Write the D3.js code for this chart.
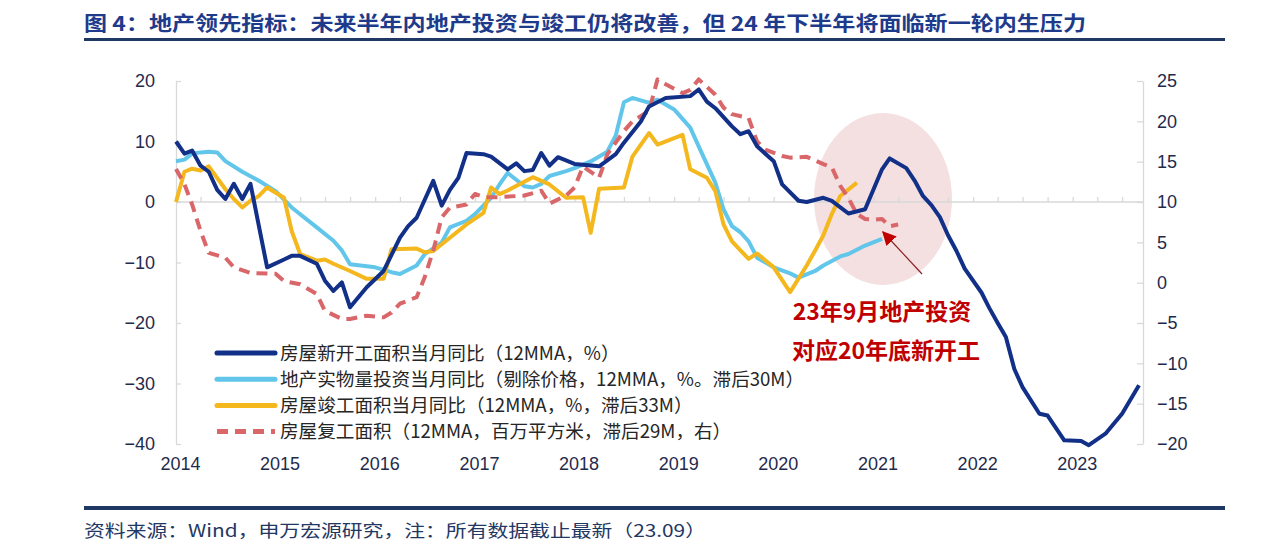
<!DOCTYPE html>
<html>
<head>
<meta charset="utf-8">
<script src="https://cdn.jsdelivr.net/npm/d3@7"></script>
<style>
  html, body { margin: 0; padding: 0; background: #fff; }
  svg { display: block; font-family: "Liberation Sans", Arial, "Noto Sans CJK SC", sans-serif; }
  .cjk { font-family: "Noto Sans CJK SC", "Noto Sans", sans-serif; }
</style>
</head>
<body>
<svg id="chart" width="1280" height="545"></svg>
<script>
// series as [month, value] vertices
const newStarts = [
  ["2014-01", 10], ["2014-02", 8], ["2014-03", 8.5], ["2014-04", 6], ["2014-05", 5], ["2014-06", 2],
  ["2014-07", 0.5], ["2014-08", 3], ["2014-09", 0.5], ["2014-10", 3], ["2014-12", -10.8],
  ["2015-02", -9.5], ["2015-03", -8.9], ["2015-04", -8.9], ["2015-06", -10.2], ["2015-07", -13],
  ["2015-08", -14.7], ["2015-09", -13.3], ["2015-10", -17.4], ["2015-12", -14.1], ["2016-02", -11.4],
  ["2016-04", -5.9], ["2016-05", -4], ["2016-06", -2.6], ["2016-08", 3.5], ["2016-09", -0.6],
  ["2016-10", 2], ["2016-11", 4], ["2016-12", 8.1], ["2017-02", 7.9], ["2017-03", 7.5],
  ["2017-05", 5.4], ["2017-06", 6.4], ["2017-07", 5.1], ["2017-08", 5.3], ["2017-09", 8.1],
  ["2017-10", 6], ["2017-11", 7.4], ["2018-01", 6.3], ["2018-04", 5.9], ["2018-06", 7.9],
  ["2018-07", 9.8], ["2018-09", 13.3], ["2018-10", 15.8], ["2018-12", 17.2], ["2019-03", 17.5],
  ["2019-04", 18.6], ["2019-05", 16.6], ["2019-06", 15.5], ["2019-08", 12.5], ["2019-09", 11.2],
  ["2019-10", 11.7], ["2019-11", 9.2], ["2020-01", 6.75], ["2020-02", 2.9], ["2020-04", 0.2],
  ["2020-05", 0], ["2020-07", 0.7], ["2020-08", 0.2], ["2020-10", -1.9], ["2020-12", -1.2],
  ["2021-02", 5.4], ["2021-03", 7.2], ["2021-05", 5.6], ["2021-06", 3.5], ["2021-07", 1],
  ["2021-08", -0.5], ["2021-09", -2.5], ["2021-10", -5.5], ["2021-11", -8.1], ["2021-12", -11],
  ["2022-02", -15], ["2022-03", -17.5], ["2022-04", -20], ["2022-05", -22.3], ["2022-06", -27.6],
  ["2022-07", -30.6], ["2022-09", -35], ["2022-10", -35.3], ["2022-12", -39.4], ["2023-02", -39.5],
  ["2023-03", -40.2], ["2023-05", -38.3], ["2023-07", -35], ["2023-09", -30.3]
];

const investment = [
  ["2014-01", 6.75], ["2014-02", 7], ["2014-03", 8], ["2014-04", 8.2], ["2014-05", 8.3], ["2014-06", 8.2],
  ["2014-07", 6.75], ["2014-09", 5], ["2014-11", 3.5], ["2015-01", 1.8], ["2015-03", -0.9],
  ["2015-06", -4.2], ["2015-08", -6.4], ["2015-09", -8], ["2015-10", -10.3], ["2016-01", -10.8],
  ["2016-03", -11.6], ["2016-04", -11.9], ["2016-06", -10.5], ["2016-07", -8.6], ["2016-09", -6.7],
  ["2016-10", -4.2], ["2016-12", -3.1], ["2017-01", -2], ["2017-03", 0.7], ["2017-04", 2.9],
  ["2017-05", 4.8], ["2017-07", 2.6], ["2017-08", 2.4], ["2017-09", 3], ["2017-10", 4.3],
  ["2017-12", 5.1], ["2018-01", 5.6], ["2018-03", 6.7], ["2018-05", 8.3], ["2018-06", 11],
  ["2018-07", 16.5], ["2018-08", 17.2], ["2018-09", 16.8], ["2018-10", 16.4], ["2018-11", 16.9],
  ["2019-01", 15.3], ["2019-03", 12.3], ["2019-04", 9.2], ["2019-06", 3.2], ["2019-07", -1.2],
  ["2019-08", -4], ["2019-09", -5], ["2019-10", -6.5], ["2019-11", -9.2], ["2020-01", -10.8],
  ["2020-03", -11.8], ["2020-04", -12.5], ["2020-06", -11.4], ["2020-07", -10.5], ["2020-09", -9],
  ["2020-10", -8.6], ["2020-12", -7.2], ["2021-02", -6.1]
];

const completions = [
  ["2014-01", 0], ["2014-02", 5], ["2014-03", 5.5], ["2014-04", 5.2], ["2014-05", 5.9], ["2014-07", 2.1],
  ["2014-08", 0.5], ["2014-09", -0.9], ["2014-10", 0.2], ["2014-11", 1], ["2014-12", 2.4],
  ["2015-02", 0.7], ["2015-03", -4.8], ["2015-04", -8.6], ["2015-06", -9.7], ["2015-07", -9.5],
  ["2015-08", -10.2], ["2015-10", -11.4], ["2015-12", -12.7], ["2016-02", -12.7], ["2016-03", -7.8],
  ["2016-06", -7.7], ["2016-07", -8.3], ["2016-08", -8.1], ["2016-10", -5.9], ["2016-12", -3.7],
  ["2017-02", -1.8], ["2017-03", 2.4], ["2017-04", 1.3], ["2017-05", 1.9], ["2017-08", 4.1],
  ["2017-10", 2.9], ["2017-12", 0.7], ["2018-02", 0.8], ["2018-03", -5.1], ["2018-04", 2.2],
  ["2018-07", 2.4], ["2018-08", 7.5], ["2018-10", 11.4], ["2018-11", 9.5], ["2019-02", 11.1],
  ["2019-03", 5.4], ["2019-05", 4], ["2019-06", 1.8], ["2019-07", -3.7], ["2019-08", -6.5],
  ["2019-09", -8], ["2019-10", -9.4], ["2019-11", -8.5], ["2020-01", -10.8], ["2020-03", -14.9],
  ["2020-05", -10.5], ["2020-06", -8], ["2020-07", -5.5], ["2020-08", -2], ["2020-09", 1],
  ["2020-11", 3.2]
];

// right axis
const resumedArea = [
  ["2014-01", 14.1], ["2014-02", 12.2], ["2014-03", 9.7], ["2014-04", 6.4], ["2014-05", 3.7], ["2014-07", 3.1],
  ["2014-08", 1.9], ["2014-10", 1.2], ["2015-01", 1.1], ["2015-02", 0.2], ["2015-04", -0.2],
  ["2015-06", -1.4], ["2015-07", -3.5], ["2015-09", -4.5], ["2015-10", -4.5], ["2015-12", -4.1],
  ["2016-02", -4.3], ["2016-03", -3.7], ["2016-04", -2.6], ["2016-06", -1.8], ["2016-07", 0.7],
  ["2016-08", 4], ["2016-09", 8.1], ["2016-10", 9.3], ["2016-12", 9.7], ["2017-01", 11],
  ["2017-02", 10.6], ["2017-04", 10.6], ["2017-07", 10.8], ["2017-09", 11.4], ["2017-10", 9.8],
  ["2017-12", 10.8], ["2018-01", 11.8], ["2018-02", 14.4], ["2018-04", 13], ["2018-05", 15.9],
  ["2018-07", 18.8], ["2018-08", 20], ["2018-10", 21.3], ["2018-11", 25.2], ["2018-12", 24.6],
  ["2019-02", 23.5], ["2019-03", 23.9], ["2019-04", 25.2], ["2019-06", 23.3], ["2019-07", 21.7],
  ["2019-08", 20.9], ["2019-10", 20.4], ["2019-11", 17.5], ["2019-12", 16.5], ["2020-02", 15.7],
  ["2020-03", 15.5], ["2020-05", 15.6], ["2020-07", 14.7], ["2020-08", 14.3], ["2020-09", 12],
  ["2020-10", 10.5], ["2020-11", 8.5], ["2020-12", 7.9], ["2021-01", 7.8], ["2021-02", 7.9],
  ["2021-03", 7], ["2021-04", 7.2]
];

const leftTicks = [20, 10, 0, -10, -20, -30, -40];
const rightTicks = [25, 20, 15, 10, 5, 0, -5, -10, -15, -20];
const yearLabels = ["2014", "2015", "2016", "2017", "2018", "2019", "2020", "2021", "2022", "2023"];

const seriesNames = [
  "房屋新开工面积当月同比（12MMA，%）",
  "地产实物量投资当月同比（剔除价格，12MMA，%。滞后30M）",
  "房屋竣工面积当月同比（12MMA，%，滞后33M）",
  "房屋复工面积（12MMA，百万平方米，滞后29M，右）"
];

const titleText = "图 4：地产领先指标：未来半年内地产投资与竣工仍将改善，但 24 年下半年将面临新一轮内生压力";
const sourceText = "资料来源：Wind，申万宏源研究，注：所有数据截止最新（23.09）";
const noteLines = ["23年9月地产投资", "对应20年底新开工"];

const navy = "#1F3864";
const textBlue = "#1E3A8A";
const axisGrey = "#D9D9D9";
const labelColour = "#1F2B4D";
const colours = ["#123088", "#62C6EA", "#F4B81E", "#D9676A"];

const parseMonth = d3.timeParse("%Y-%m");
const plotLeft = 176, plotRight = 1143, plotTop = 81, plotBottom = 444;

const x = d3.scaleTime()
  .domain([parseMonth("2014-01"), parseMonth("2023-09")])
  .range([plotLeft, 1139]);
const yLeft = d3.scaleLinear().domain([-40, 20]).range([plotBottom, plotTop]);
const yRight = d3.scaleLinear().domain([-20, 25]).range([plotBottom, plotTop]);

const svg = d3.select("#chart");
svg.append("rect").attr("width", 1280).attr("height", 545).attr("fill", "#fff");

// title and rules
svg.append("text")
  .attr("class", "cjk")
  .attr("x", 84).attr("y", 31)
  .attr("font-size", 20).attr("font-weight", 700)
  .attr("fill", textBlue)
  .attr("textLength", 1002).attr("lengthAdjust", "spacingAndGlyphs")
  .text(titleText);
svg.append("rect").attr("x", 84).attr("y", 38).attr("width", 1141).attr("height", 3).attr("fill", navy);
svg.append("rect").attr("x", 84).attr("y", 506).attr("width", 1141).attr("height", 4).attr("fill", navy);
svg.append("text")
  .attr("class", "cjk")
  .attr("x", 84).attr("y", 537)
  .attr("font-size", 17)
  .attr("fill", navy)
  .attr("textLength", 622).attr("lengthAdjust", "spacingAndGlyphs")
  .text(sourceText);

// highlight ellipse
svg.append("ellipse")
  .attr("cx", 883).attr("cy", 199).attr("rx", 69).attr("ry", 86)
  .attr("fill", "#F4E0E0");

// left axis
const leftAxis = svg.append("g")
  .attr("transform", "translate(" + plotLeft + ",0)")
  .call(d3.axisLeft(yLeft).tickValues(leftTicks).tickSize(-5).tickSizeOuter(0).tickPadding(21));

// right axis
const rightAxis = svg.append("g")
  .attr("transform", "translate(" + plotRight + ",0)")
  .call(d3.axisRight(yRight).tickValues(rightTicks).tickSize(-6).tickSizeOuter(0).tickPadding(14));

[leftAxis, rightAxis].forEach(g => {
  g.select(".domain").attr("stroke", axisGrey).attr("stroke-width", 1.3);
  g.selectAll(".tick line").attr("stroke", axisGrey).attr("stroke-width", 1.3);
  g.selectAll(".tick text").attr("font-size", 18).attr("fill", labelColour);
});

// zero line with quarterly ticks
svg.append("line")
  .attr("x1", plotLeft).attr("x2", plotRight)
  .attr("y1", yLeft(0)).attr("y2", yLeft(0))
  .attr("stroke", axisGrey).attr("stroke-width", 1.3);
const zeroAxis = svg.append("g")
  .attr("transform", "translate(0," + yLeft(0) + ")")
  .call(d3.axisBottom(x).ticks(d3.timeMonth.every(3)).tickSize(-5).tickFormat(""));
zeroAxis.select(".domain").remove();
zeroAxis.selectAll(".tick line").attr("stroke", axisGrey).attr("stroke-width", 1.3);

// year labels
const yearAxis = svg.append("g")
  .attr("transform", "translate(0," + plotBottom + ")")
  .call(d3.axisBottom(x)
    .tickValues(yearLabels.map(y => parseMonth(y + "-01")))
    .tickSize(0).tickPadding(13)
    .tickFormat(d3.timeFormat("%Y")));
yearAxis.select(".domain").remove();
yearAxis.selectAll(".tick text")
  .attr("font-size", 18).attr("fill", labelColour).attr("dx", 4);

// lines
const lineLeft = d3.line().x(d => x(parseMonth(d[0]))).y(d => yLeft(d[1]));
const lineRight = d3.line().x(d => x(parseMonth(d[0]))).y(d => yRight(d[1]));

const plotted = [
  { data: investment, line: lineLeft, colour: colours[1], dash: null },
  { data: completions, line: lineLeft, colour: colours[2], dash: null },
  { data: resumedArea, line: lineRight, colour: colours[3], dash: "11,7" },
  { data: newStarts, line: lineLeft, colour: colours[0], dash: null }
];
plotted.forEach(s => {
  svg.append("path")
    .attr("d", s.line(s.data))
    .attr("fill", "none")
    .attr("stroke", s.colour)
    .attr("stroke-width", 4)
    .attr("stroke-linejoin", "round")
    .attr("stroke-dasharray", s.dash);
});

// legend
const legend = svg.append("g").attr("transform", "translate(217,353)");
seriesNames.forEach((name, i) => {
  const row = legend.append("g").attr("transform", "translate(0," + (i * 26.2) + ")");
  row.append("line")
    .attr("x1", 0).attr("x2", 58)
    .attr("stroke", colours[i]).attr("stroke-width", 5)
    .attr("stroke-linecap", i === 3 ? "butt" : "round")
    .attr("stroke-dasharray", i === 3 ? "11,7" : null);
  row.append("text")
    .attr("class", "cjk")
    .attr("x", 63).attr("y", 0).attr("dy", "0.35em")
    .attr("font-size", 18.6).attr("fill", "#262626")
    .text(name);
});

// annotation arrow and note
svg.append("defs").append("marker")
  .attr("id", "head").attr("viewBox", "0 0 10 10")
  .attr("refX", 9).attr("refY", 5)
  .attr("markerWidth", 14).attr("markerHeight", 14)
  .attr("markerUnits", "userSpaceOnUse")
  .attr("orient", "auto")
  .append("path").attr("d", "M0,0 L10,5 L0,10 z").attr("fill", "#C00000");
svg.append("line")
  .attr("x1", 922).attr("y1", 274).attr("x2", 883).attr("y2", 232)
  .attr("stroke", "#8B2323").attr("stroke-width", 1.2)
  .attr("marker-end", "url(#head)");

noteLines.forEach((t, i) => {
  svg.append("text")
    .attr("class", "cjk")
    .attr("x", 882 + i * 4).attr("y", 320 + i * 39)
    .attr("text-anchor", "middle")
    .attr("font-size", 23).attr("font-weight", 700)
    .attr("fill", "#C00000")
    .text(t);
});
</script>
</body>
</html>
